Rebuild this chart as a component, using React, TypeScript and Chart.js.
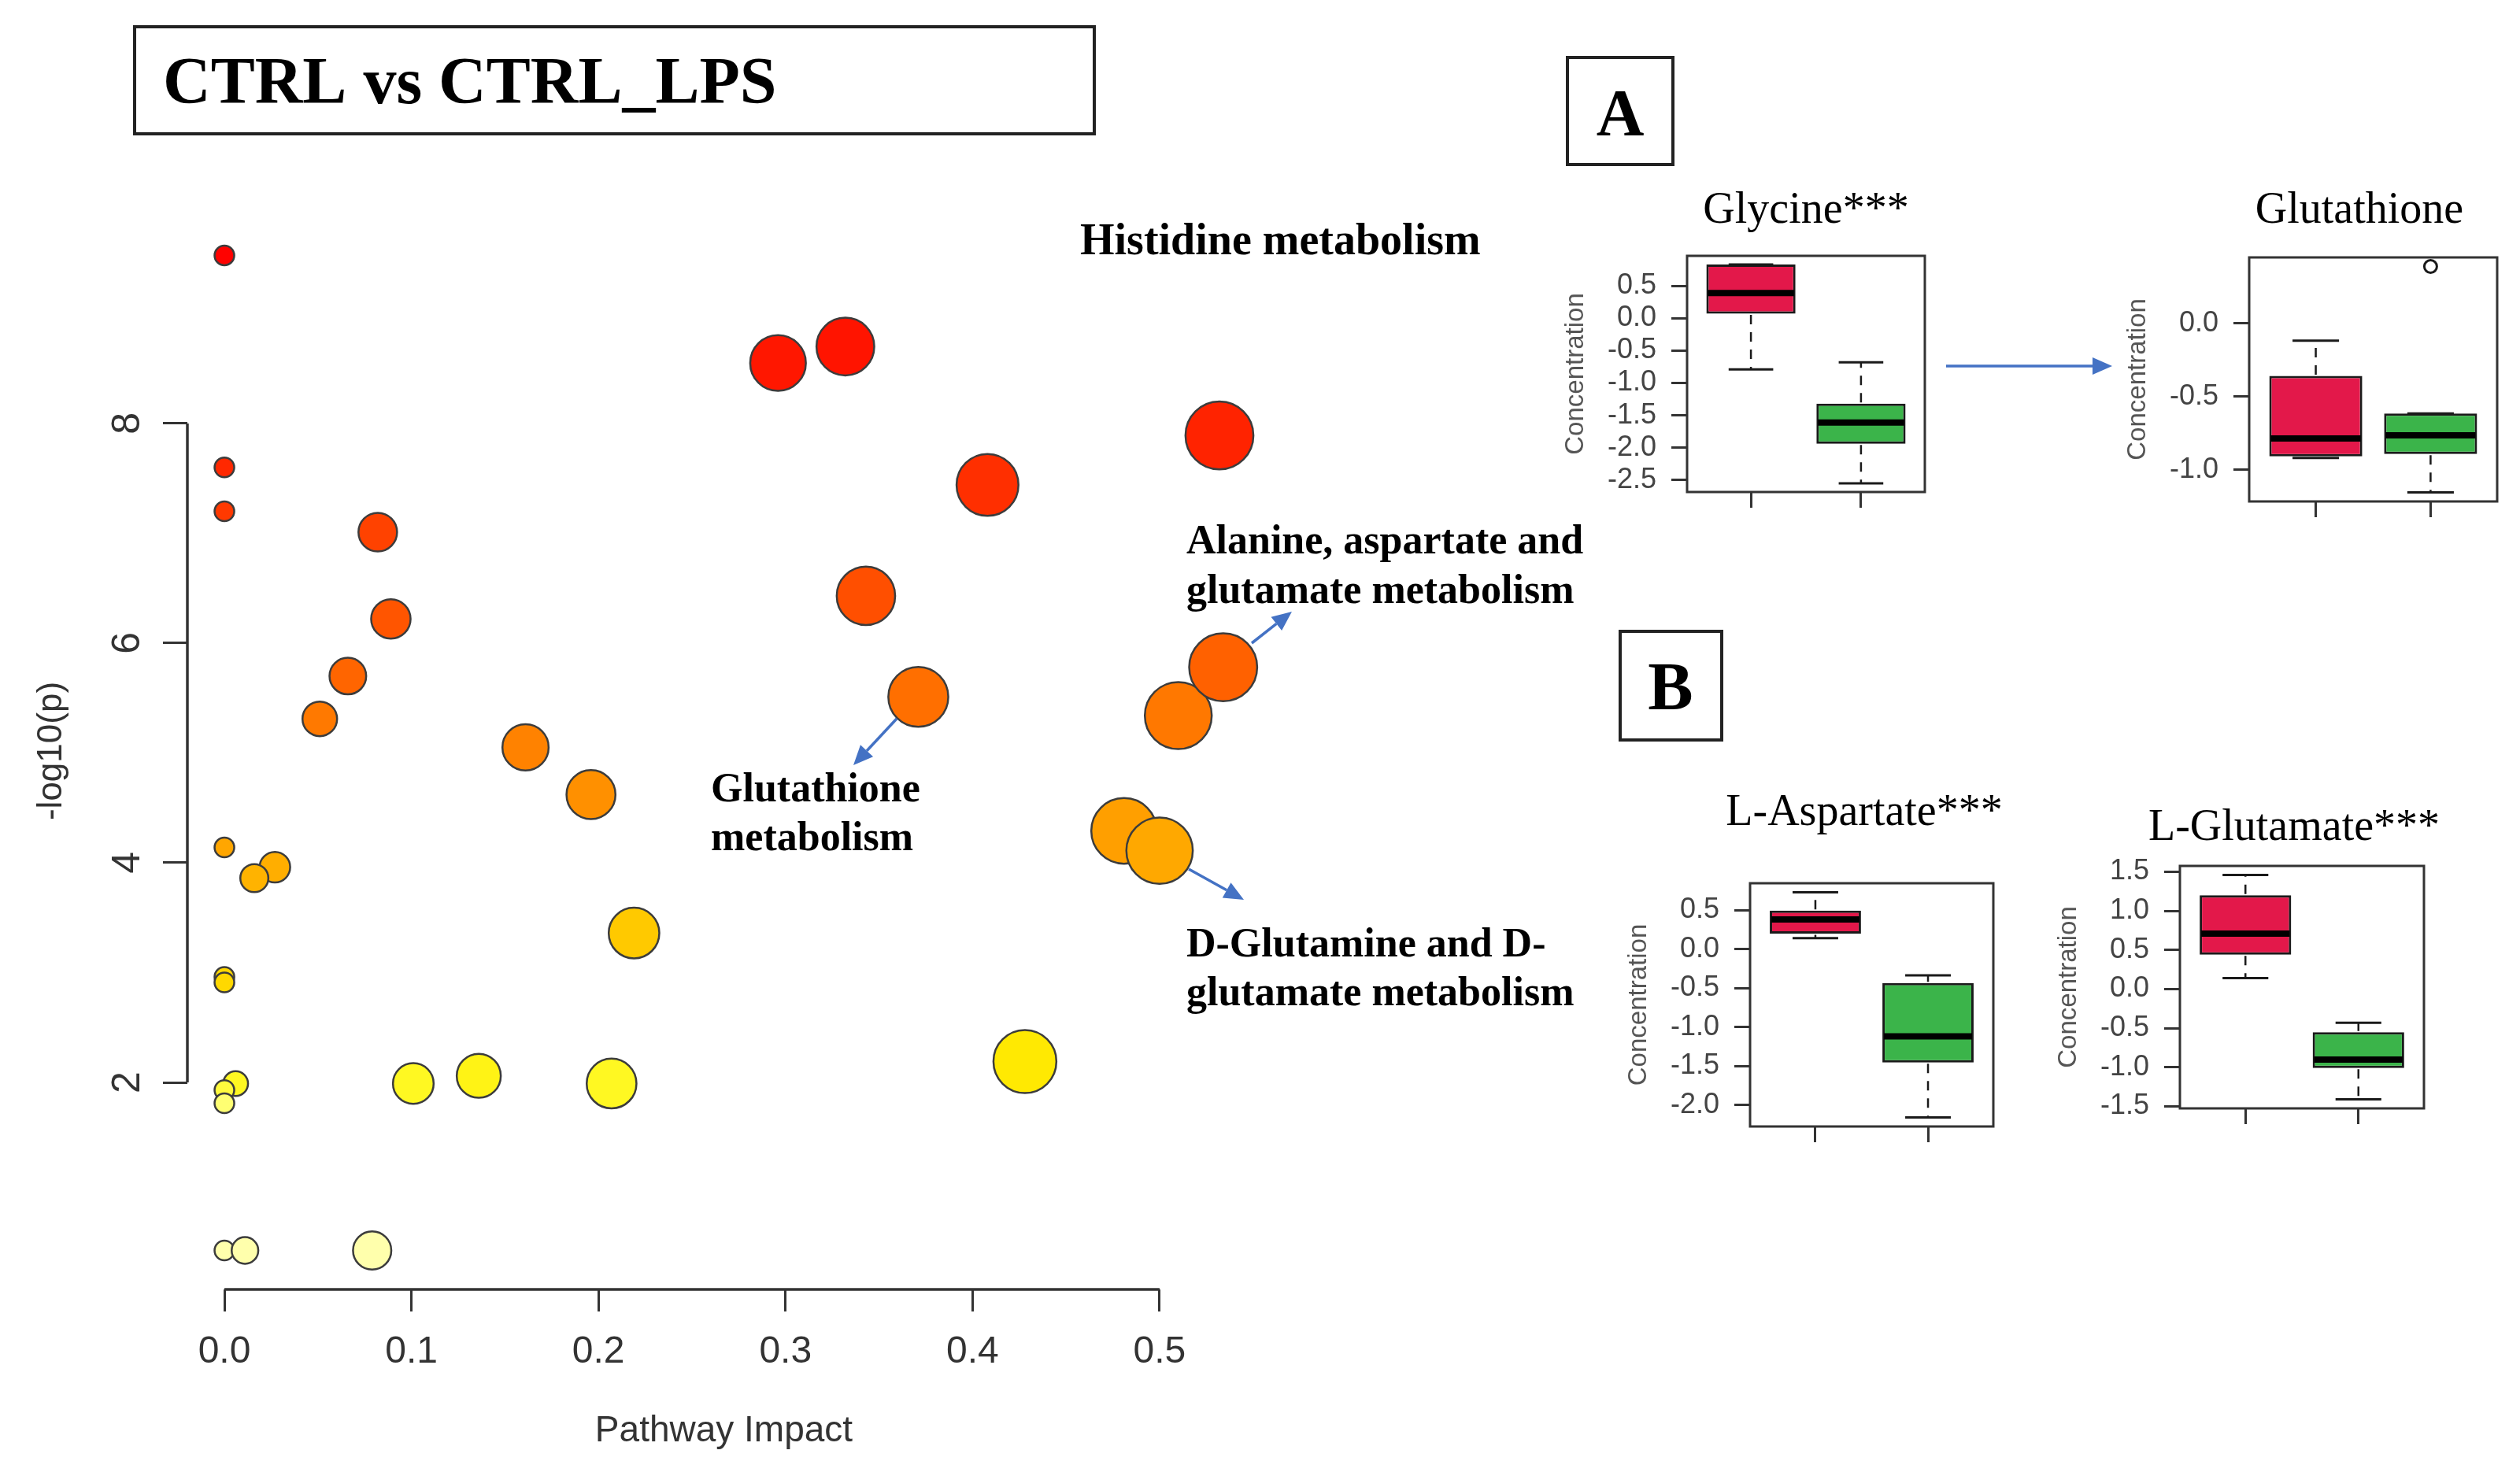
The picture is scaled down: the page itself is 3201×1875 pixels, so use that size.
import React, { useEffect, useRef } from 'react';
import { Chart, registerables } from 'chart.js';

Chart.register(...registerables);

const SANS = "'Liberation Sans', Arial, Helvetica, sans-serif";
const SERIF = "'Liberation Serif', 'Times New Roman', Times, serif";

// ---------------- Pathway analysis (bubble plot) data ----------------
const pathwayImpact = [
  0, 0, 0, 0.296, 0.332, 0.532, 0.408, 0.082, 0.089, 0.343, 0.066, 0.051,
  0.51, 0.534, 0.371, 0.161, 0.196, 0, 0.027, 0.016, 0.481, 0.5, 0.219, 0, 0,
  0.428, 0.136, 0.101, 0.207, 0.006, 0, 0, 0, 0.011, 0.079,
];
const negLog10P = [
  9.53, 7.6, 7.2, 8.55, 8.7, 7.89, 7.44, 7.01, 6.22, 6.43, 5.7, 5.31,
  5.34, 5.78, 5.51, 5.05, 4.62, 4.14, 3.96, 3.86, 4.29, 4.11, 3.36, 2.96, 2.91,
  2.19, 2.06, 1.99, 1.99, 1.99, 1.93, 1.81, 0.47, 0.47, 0.47,
];
const impactTicks = [0, 0.1, 0.2, 0.3, 0.4, 0.5];
const pTicks = [2, 4, 6, 8];

// ---------------- Box plot data (CTRL, CTRL_LPS) ----------------
const groupColors = ['rgb(227,24,74)', 'rgb(59,180,74)'];

const glycineLow = [-0.79, -2.55];
const glycineQ1 = [0.07, -1.94];
const glycineMedian = [0.39, -1.61];
const glycineQ3 = [0.83, -1.32];
const glycineHigh = [0.83, -0.68];
const glycineOutliers: number[][] = [[], []];
const glycineTicks = [-2.5, -2, -1.5, -1, -0.5, 0, 0.5];

const glutathioneLow = [-0.92, -1.155];
const glutathioneQ1 = [-0.909, -0.893];
const glutathioneMedian = [-0.786, -0.765];
const glutathioneQ3 = [-0.358, -0.615];
const glutathioneHigh = [-0.118, -0.615];
const glutathioneOutliers: number[][] = [[], [0.39]];
const glutathioneTicks = [-1, -0.5, 0];

const aspartateLow = [0.14, -2.16];
const aspartateQ1 = [0.2, -1.455];
const aspartateMedian = [0.38, -1.12];
const aspartateQ3 = [0.495, -0.435];
const aspartateHigh = [0.73, -0.335];
const aspartateOutliers: number[][] = [[], []];
const aspartateTicks = [-2, -1.5, -1, -0.5, 0, 0.5];

const glutamateLow = [0.14, -1.41];
const glutamateQ1 = [0.44, -1.01];
const glutamateMedian = [0.71, -0.9];
const glutamateQ3 = [1.2, -0.55];
const glutamateHigh = [1.46, -0.43];
const glutamateOutliers: number[][] = [[], []];
const glutamateTicks = [-1.5, -1, -0.5, 0, 0.5, 1, 1.5];

// ---------------- styling helpers ----------------
const heatStops: number[][] = [
  [0.4, 255, 175],
  [1.8, 255, 118],
  [2.0, 248, 30],
  [2.2, 232, 0],
  [3.0, 214, 0],
  [3.4, 200, 0],
  [4.1, 168, 0],
  [4.7, 140, 0],
  [5.3, 122, 0],
  [5.8, 96, 0],
  [6.4, 80, 0],
  [7.0, 66, 0],
  [7.6, 40, 0],
  [8.6, 22, 0],
  [9.6, 0, 0],
];
function heatColor(v: number) {
  const s = heatStops;
  if (v <= s[0][0]) return `rgb(255,${s[0][1]},${s[0][2]})`;
  for (let i = 1; i < s.length; i++) {
    if (v <= s[i][0]) {
      const t = (v - s[i - 1][0]) / (s[i][0] - s[i - 1][0]);
      const g = Math.round(s[i - 1][1] + t * (s[i][1] - s[i - 1][1]));
      const b = Math.round(s[i - 1][2] + t * (s[i][2] - s[i - 1][2]));
      return `rgb(255,${g},${b})`;
    }
  }
  return 'rgb(255,0,0)';
}
function bubbleRadius(impact: number) {
  return 12.5 + 42 * Math.sqrt(impact);
}

function drawArrow(ctx: CanvasRenderingContext2D, x1: number, y1: number, x2: number, y2: number) {
  const color = '#4472C4';
  const ang = Math.atan2(y2 - y1, x2 - x1);
  const headLen = 25;
  const headW = 11;
  const bx = x2 - headLen * Math.cos(ang);
  const by = y2 - headLen * Math.sin(ang);
  ctx.save();
  ctx.strokeStyle = color;
  ctx.fillStyle = color;
  ctx.lineWidth = 3.5;
  ctx.beginPath();
  ctx.moveTo(x1, y1);
  ctx.lineTo(bx, by);
  ctx.stroke();
  ctx.beginPath();
  ctx.moveTo(x2, y2);
  ctx.lineTo(bx + headW * Math.sin(ang), by - headW * Math.cos(ang));
  ctx.lineTo(bx - headW * Math.sin(ang), by + headW * Math.cos(ang));
  ctx.closePath();
  ctx.fill();
  ctx.restore();
}

// ---------------- main bubble chart ----------------
function MainChart() {
  const ref = useRef<HTMLCanvasElement>(null);
  useEffect(() => {
    const decor = {
      id: 'decor',
      afterDraw(chart: any) {
        const { ctx, chartArea: ca, scales } = chart;
        const xs = scales.x;
        const ys = scales.y;
        ctx.save();
        // R-style axis lines (from first to last tick)
        ctx.strokeStyle = '#333';
        ctx.lineWidth = 3.5;
        ctx.beginPath();
        ctx.moveTo(xs.getPixelForValue(impactTicks[0]), ca.bottom);
        ctx.lineTo(xs.getPixelForValue(impactTicks[impactTicks.length - 1]), ca.bottom);
        ctx.moveTo(ca.left, ys.getPixelForValue(pTicks[0]));
        ctx.lineTo(ca.left, ys.getPixelForValue(pTicks[pTicks.length - 1]));
        ctx.stroke();

        // title box
        ctx.lineWidth = 4;
        ctx.strokeStyle = '#222';
        ctx.strokeRect(171, 34, 1219, 136);
        ctx.fillStyle = '#000';
        ctx.textAlign = 'left';
        ctx.textBaseline = 'alphabetic';
        ctx.font = `bold 84px ${SERIF}`;
        ctx.fillText('CTRL vs CTRL_LPS', 207, 131);

        // panel letters
        ctx.strokeRect(1991, 73, 134, 136);
        ctx.strokeRect(2058, 802, 129, 138);
        ctx.textAlign = 'center';
        ctx.font = `bold 84px ${SERIF}`;
        ctx.fillText('A', 2058, 172);
        ctx.font = `bold 86px ${SERIF}`;
        ctx.fillText('B', 2122, 901);

        // pathway labels
        ctx.textAlign = 'left';
        ctx.font = `bold 56px ${SERIF}`;
        ctx.fillText('Histidine metabolism', 1372, 323);
        ctx.font = `bold 52px ${SERIF}`;
        ctx.fillText('Alanine, aspartate and', 1507, 703);
        ctx.fillText('glutamate metabolism', 1507, 766);
        ctx.fillText('Glutathione', 903, 1018);
        ctx.fillText('metabolism', 903, 1080);
        ctx.fillText('D-Glutamine and D-', 1507, 1215);
        ctx.fillText('glutamate metabolism', 1507, 1277);
        ctx.restore();

        // arrows
        drawArrow(ctx, 1590, 817, 1641, 777);
        drawArrow(ctx, 1139, 913, 1084, 972);
        drawArrow(ctx, 1510, 1104, 1580, 1143);
        drawArrow(ctx, 2472, 465, 2683, 465);
      },
    };

    const chart = new Chart(ref.current as HTMLCanvasElement, {
      type: 'bubble',
      data: {
        datasets: [
          {
            data: pathwayImpact.map((x, i) => ({ x, y: negLog10P[i], r: bubbleRadius(x) })),
            backgroundColor: (c: any) => heatColor(c.raw ? c.raw.y : 0),
            borderColor: '#3c3c3c',
            borderWidth: 2.5,
          },
        ],
      },
      options: {
        responsive: false,
        animation: false,
        devicePixelRatio: 1,
        events: [],
        layout: { padding: { left: 0, top: 270, right: 1600, bottom: 0 } },
        plugins: { legend: { display: false }, tooltip: { enabled: false } },
        scales: {
          x: {
            type: 'linear',
            position: 'bottom',
            min: -0.0198,
            max: 0.5539,
            afterFit: (s: any) => {
              s.height = 237;
            },
            afterBuildTicks: (s: any) => {
              s.ticks = impactTicks.map((v) => ({ value: v }));
            },
            ticks: {
              callback: (v: any) => Number(v).toFixed(1),
              font: { family: SANS, size: 48 },
              color: '#333',
              padding: 23,
              autoSkip: false,
              maxRotation: 0,
            },
            grid: { display: true, drawOnChartArea: false, drawTicks: true, tickLength: 28, tickWidth: 3, tickColor: '#333' },
            border: { display: false },
            title: {
              display: true,
              text: 'Pathway Impact',
              font: { family: SANS, size: 46 },
              color: '#333',
              padding: { top: 0, bottom: 29 },
            },
          },
          y: {
            type: 'linear',
            position: 'left',
            min: 0.115,
            max: 9.92,
            afterFit: (s: any) => {
              s.width = 238;
            },
            afterBuildTicks: (s: any) => {
              s.ticks = pTicks.map((v) => ({ value: v }));
            },
            ticks: {
              callback: (v: any) => String(v),
              font: { family: SANS, size: 50 },
              color: '#333',
              padding: 30,
              autoSkip: false,
              minRotation: 90,
              maxRotation: 90,
              crossAlign: 'center',
            },
            grid: { display: true, drawOnChartArea: false, drawTicks: true, tickLength: 31, tickWidth: 3, tickColor: '#333' },
            border: { display: false },
            title: {
              display: true,
              text: '-log10(p)',
              font: { family: SANS, size: 44 },
              color: '#333',
              padding: { top: 39, bottom: 0 },
            },
          },
        },
      } as any,
      plugins: [decor],
    });
    return () => chart.destroy();
  }, []);
  return (
    <canvas
      ref={ref}
      width={3201}
      height={1875}
      style={{ position: 'absolute', left: 0, top: 0, width: 3201, height: 1875 }}
    />
  );
}

// ---------------- box plot panels ----------------
type Panel = {
  key: string;
  title: string;
  low: number[];
  q1: number[];
  median: number[];
  q3: number[];
  high: number[];
  outliers: number[][];
  ticks: number[];
  frame: number[]; // left, top, right, bottom (page px)
  titleX: number;
  titleBaseline: number;
};

const panels: Panel[] = [
  {
    key: 'gly', title: 'Glycine***',
    low: glycineLow, q1: glycineQ1, median: glycineMedian, q3: glycineQ3, high: glycineHigh, outliers: glycineOutliers,
    ticks: glycineTicks, frame: [2143, 325, 2445, 625], titleX: 2294, titleBaseline: 283,
  },
  {
    key: 'gsh', title: 'Glutathione',
    low: glutathioneLow, q1: glutathioneQ1, median: glutathioneMedian, q3: glutathioneQ3, high: glutathioneHigh, outliers: glutathioneOutliers,
    ticks: glutathioneTicks, frame: [2857, 327, 3172, 637], titleX: 2997, titleBaseline: 283,
  },
  {
    key: 'asp', title: 'L-Aspartate***',
    low: aspartateLow, q1: aspartateQ1, median: aspartateMedian, q3: aspartateQ3, high: aspartateHigh, outliers: aspartateOutliers,
    ticks: aspartateTicks, frame: [2223, 1122, 2532, 1431], titleX: 2368, titleBaseline: 1048,
  },
  {
    key: 'glu', title: 'L-Glutamate***',
    low: glutamateLow, q1: glutamateQ1, median: glutamateMedian, q3: glutamateQ3, high: glutamateHigh, outliers: glutamateOutliers,
    ticks: glutamateTicks, frame: [2769, 1100, 3079, 1408], titleX: 2914, titleBaseline: 1067,
  },
];

const AXIS_W = 190;
const TOP_PAD = 130;
const RIGHT_PAD = 20;
const BOTTOM_H = 45;

function BoxPanel({ p }: { p: Panel }) {
  const ref = useRef<HTMLCanvasElement>(null);
  const [fl, ft, fr, fb] = p.frame;
  const left = fl - AXIS_W;
  const top = ft - TOP_PAD;
  const width = fr - fl + AXIS_W + RIGHT_PAD;
  const height = fb - ft + TOP_PAD + BOTTOM_H;

  useEffect(() => {
    const all = [...p.low, ...p.high, ...p.outliers.flat()];
    const lo = Math.min(...all);
    const hi = Math.max(...all);
    const ext = (hi - lo) * 0.04;

    const boxDecor = {
      id: 'boxDecor',
      afterDatasetsDraw(chart: any) {
        const { ctx, chartArea: ca, scales } = chart;
        const ys = scales.y;
        const meta = chart.getDatasetMeta(0);
        ctx.save();
        meta.data.forEach((bar: any, i: number) => {
          const x = bar.x;
          const hw = bar.width / 2;
          const yLow = ys.getPixelForValue(p.low[i]);
          const yQ1 = ys.getPixelForValue(p.q1[i]);
          const yMed = ys.getPixelForValue(p.median[i]);
          const yQ3 = ys.getPixelForValue(p.q3[i]);
          const yHigh = ys.getPixelForValue(p.high[i]);
          ctx.strokeStyle = '#1a1a1a';
          ctx.lineWidth = 2.5;
          ctx.setLineDash([12, 10]);
          ctx.beginPath();
          if (p.high[i] > p.q3[i]) {
            ctx.moveTo(x, yQ3 - 1.5);
            ctx.lineTo(x, yHigh);
          }
          if (p.low[i] < p.q1[i]) {
            ctx.moveTo(x, yQ1 + 1.5);
            ctx.lineTo(x, yLow);
          }
          ctx.stroke();
          ctx.setLineDash([]);
          ctx.lineWidth = 3;
          ctx.beginPath();
          ctx.moveTo(x - hw / 2, yHigh);
          ctx.lineTo(x + hw / 2, yHigh);
          ctx.moveTo(x - hw / 2, yLow);
          ctx.lineTo(x + hw / 2, yLow);
          ctx.stroke();
          // median
          ctx.strokeStyle = '#000';
          ctx.lineWidth = 8;
          ctx.beginPath();
          ctx.moveTo(x - hw + 2, yMed);
          ctx.lineTo(x + hw - 2, yMed);
          ctx.stroke();
          // outliers
          ctx.lineWidth = 3;
          ctx.strokeStyle = '#1a1a1a';
          p.outliers[i].forEach((v) => {
            ctx.beginPath();
            ctx.arc(x, ys.getPixelForValue(v), 8, 0, Math.PI * 2);
            ctx.stroke();
          });
        });
        // frame
        ctx.lineWidth = 3;
        ctx.strokeStyle = '#333';
        ctx.strokeRect(ca.left, ca.top, ca.right - ca.left, ca.bottom - ca.top);
        // title
        ctx.fillStyle = '#000';
        ctx.font = `56px ${SERIF}`;
        ctx.textAlign = 'center';
        ctx.textBaseline = 'alphabetic';
        ctx.fillText(p.title, p.titleX - left, p.titleBaseline - top);
        ctx.restore();
      },
    };

    const chart = new Chart(ref.current as HTMLCanvasElement, {
      type: 'bar',
      data: {
        datasets: [
          {
            data: p.q1.map((v, i) => ({ x: i + 1, y: [v, p.q3[i]] })),
            backgroundColor: groupColors,
            borderColor: '#1a1a1a',
            borderWidth: 3,
            borderSkipped: false,
            barPercentage: 0.81,
            categoryPercentage: 1,
          },
        ],
      },
      options: {
        responsive: false,
        animation: false,
        devicePixelRatio: 1,
        events: [],
        layout: { padding: { left: 0, top: TOP_PAD, right: RIGHT_PAD, bottom: 0 } },
        plugins: { legend: { display: false }, tooltip: { enabled: false } },
        scales: {
          x: {
            type: 'linear',
            min: 0.42,
            max: 2.58,
            offset: false,
            afterFit: (s: any) => {
              s.height = BOTTOM_H;
            },
            afterBuildTicks: (s: any) => {
              s.ticks = p.q1.map((_, i) => ({ value: i + 1 }));
            },
            ticks: { display: false },
            grid: { display: true, offset: false, drawOnChartArea: false, drawTicks: true, tickLength: 20, tickWidth: 3, tickColor: '#333' },
            border: { display: false },
          },
          y: {
            type: 'linear',
            beginAtZero: false,
            min: lo - ext,
            max: hi + ext,
            afterFit: (s: any) => {
              s.width = AXIS_W;
            },
            afterBuildTicks: (s: any) => {
              s.ticks = p.ticks.map((v) => ({ value: v }));
            },
            ticks: {
              callback: (v: any) => Number(v).toFixed(1),
              font: { family: SANS, size: 36 },
              color: '#444',
              padding: 19,
              autoSkip: false,
            },
            grid: { display: true, drawOnChartArea: false, drawTicks: true, tickLength: 20, tickWidth: 3, tickColor: '#333' },
            border: { display: false },
            title: {
              display: true,
              text: 'Concentration',
              font: { family: SANS, size: 33 },
              color: '#555',
              padding: { top: 29, bottom: 0 },
            },
          },
        },
      } as any,
      plugins: [boxDecor],
    });
    return () => chart.destroy();
  }, []);

  return (
    <canvas
      ref={ref}
      width={width}
      height={height}
      style={{ position: 'absolute', left, top, width, height }}
    />
  );
}

export default function App() {
  return (
    <div
      style={{
        position: 'absolute',
        left: 0,
        top: 0,
        width: 3201,
        height: 1875,
        background: '#fff',
        overflow: 'hidden',
      }}
    >
      <MainChart />
      {panels.map((p) => (
        <BoxPanel key={p.key} p={p} />
      ))}
    </div>
  );
}
